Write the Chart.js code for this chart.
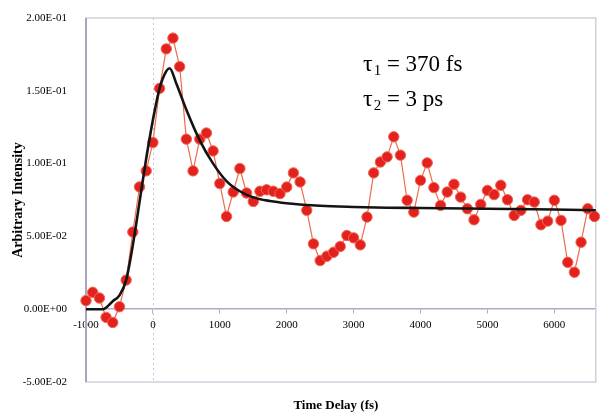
<!DOCTYPE html>
<html>
<head>
<meta charset="utf-8">
<script src="https://cdn.jsdelivr.net/npm/chart.js@4.4.0/dist/chart.umd.min.js"></script>
<style>
  body { margin: 0; background: #fff; }
</style>
</head>
<body>
<canvas id="chart" width="602" height="413"></canvas>
<script>
// measured points (fs)
const delays = [
  -1000, -900, -800, -700, -600, -500, -400, -300, -200, -100,
  0, 100, 200, 300, 400, 500, 600, 700, 800, 900,
  1000, 1100, 1200, 1300, 1400, 1500, 1600, 1700, 1800, 1900,
  2000, 2100, 2200, 2300, 2400, 2500, 2600, 2700, 2800, 2900,
  3000, 3100, 3200, 3300, 3400, 3500, 3600, 3700, 3800, 3900,
  4000, 4100, 4200, 4300, 4400, 4500, 4600, 4700, 4800, 4900,
  5000, 5100, 5200, 5300, 5400, 5500, 5600, 5700, 5800, 5900,
  6000, 6100, 6200, 6300, 6400, 6500, 6600
];
const intensity = [
  0.0059, 0.0116, 0.0077, -0.0056, -0.0091, 0.0017, 0.0200, 0.0530, 0.0840, 0.0950,
  0.1145, 0.1517, 0.1788, 0.1862, 0.1666, 0.1168, 0.0950, 0.1168, 0.1210, 0.1087,
  0.0863, 0.0637, 0.0805, 0.0966, 0.0798, 0.0740, 0.0810, 0.0820, 0.0810, 0.0794,
  0.0839, 0.0936, 0.0874, 0.0679, 0.0449, 0.0334, 0.0364, 0.0391, 0.0431, 0.0506,
  0.0490, 0.0442, 0.0633, 0.0936, 0.1011, 0.1046, 0.1184, 0.1058, 0.0748, 0.0667,
  0.0885, 0.1005, 0.0835, 0.0713, 0.0805, 0.0858, 0.0770, 0.0690, 0.0614, 0.0720,
  0.0816, 0.0787, 0.0851, 0.0752, 0.0644, 0.0679, 0.0752, 0.0736, 0.0580, 0.0605,
  0.0748, 0.0610, 0.0322, 0.0254, 0.0460, 0.0690, 0.0637
];

// fitted curve
const fitDelays = [-1000, -750, -600, -500, -400, -300, -200, -100, 0, 100, 200, 250, 350, 500,
  700, 900, 1100, 1300, 1500, 1750, 2000, 2500, 3000, 3500, 4000, 5000, 6000, 6620];
const fitIntensity = [0, 0, 0.0055, 0.0095, 0.0200, 0.0440, 0.0736, 0.1035, 0.1300, 0.1517, 0.1635, 0.1655, 0.1550, 0.1370,
  0.1160, 0.1000, 0.0880, 0.0810, 0.0768, 0.0743, 0.0728, 0.0710, 0.0702, 0.0697, 0.0695, 0.0690, 0.0685, 0.0680];

const xTicks = [-1000, 0, 1000, 2000, 3000, 4000, 5000, 6000];
const yTicks = [-0.05, 0, 0.05, 0.10, 0.15, 0.20];
const yTickLabels = ['-5.00E-02', '0.00E+00', '5.00E-02', '1.00E-01', '1.50E-01', '2.00E-01'];

Chart.defaults.font.family = '"Liberation Serif", "Times New Roman", serif';
Chart.defaults.color = '#000';

const decorations = {
  id: 'decorations',
  beforeDatasetsDraw(chart) {
    const { ctx, chartArea: a, scales: { x } } = chart;
    ctx.save();
    // dotted line at t = 0
    const x0 = Math.round(x.getPixelForValue(0)) + 0.5;
    ctx.strokeStyle = '#c6c6d6';
    ctx.lineWidth = 1;
    ctx.setLineDash([2, 3]);
    ctx.beginPath();
    ctx.moveTo(x0, a.top);
    ctx.lineTo(x0, a.bottom);
    ctx.stroke();
    ctx.setLineDash([]);
    // frame
    ctx.strokeStyle = '#cfcfdc';
    ctx.lineWidth = 1.5;
    ctx.strokeRect(a.left, a.top, a.right - a.left, a.bottom - a.top);
    ctx.strokeStyle = '#a6a6be';
    ctx.lineWidth = 2;
    ctx.beginPath();
    ctx.moveTo(a.left, a.top);
    ctx.lineTo(a.left, a.bottom);
    ctx.stroke();
    ctx.restore();
  },
  afterDraw(chart) {
    const { ctx, chartArea: a } = chart;
    ctx.save();
    ctx.fillStyle = '#000';

    // axis titles
    ctx.font = 'bold 13px "Liberation Serif"';
    ctx.textAlign = 'center';
    ctx.textBaseline = 'middle';
    ctx.fillText('Time Delay (fs)', (a.left + a.right) / 2 - 5, 406);
    ctx.font = 'bold 14px "Liberation Serif"';
    ctx.translate(18, (a.top + a.bottom) / 2);
    ctx.rotate(-Math.PI / 2);
    ctx.fillText('Arbitrary Intensity', 0, 0);
    ctx.setTransform(1, 0, 0, 1, 0, 0);

    // lifetimes
    ctx.textAlign = 'left';
    ctx.textBaseline = 'alphabetic';
    function tau(sub, rest, x, y) {
      ctx.font = '24px "Liberation Serif"';
      ctx.fillText('\u03c4', x, y);
      x += ctx.measureText('\u03c4').width + 1;
      ctx.font = '15px "Liberation Serif"';
      ctx.fillText(sub, x, y + 4);
      x += ctx.measureText(sub).width;
      ctx.font = '23px "Liberation Serif"';
      ctx.fillText(rest, x, y);
    }
    tau('1', ' = 370 fs', 363, 71);
    tau('2', ' = 3 ps', 363, 106);
    ctx.restore();
  }
};

new Chart(document.getElementById('chart'), {
  type: 'line',
  data: {
    datasets: [{
      label: 'Data',
      data: delays.map((t, i) => ({ x: t, y: intensity[i] })),
      borderColor: '#ee6a4c',
      borderWidth: 1.2,
      pointRadius: 5.2,
      pointBackgroundColor: '#e3221f',
      pointBorderColor: '#f0664e',
      pointBorderWidth: 1,
      tension: 0,
      clip: false,
      order: 2
    }, {
      label: 'Fit',
      data: fitDelays.map((t, i) => ({ x: t, y: fitIntensity[i] })),
      borderColor: '#141414',
      borderWidth: 2.6,
      pointRadius: 0,
      cubicInterpolationMode: 'monotone',
      clip: false,
      order: 1
    }]
  },
  options: {
    responsive: false,
    animation: false,
    devicePixelRatio: 1,
    layout: { padding: { left: 0, top: 18, right: 2, bottom: 31 } },
    plugins: { legend: { display: false }, tooltip: { enabled: false } },
    scales: {
      x: {
        type: 'linear',
        position: { y: 0 },
        min: -1000,
        max: 6620,
        afterBuildTicks: s => { s.ticks = xTicks.map(v => ({ value: v })); },
        ticks: {
          callback: v => String(v),
          font: { size: 11 },
          padding: 5,
          maxRotation: 0
        },
        grid: { display: true, drawOnChartArea: false, tickLength: 4, color: '#b4a8c2' },
        border: { display: true, color: '#b4a8c2', width: 1.5 }
      },
      y: {
        min: -0.05,
        max: 0.2,
        afterBuildTicks: s => { s.ticks = yTicks.map(v => ({ value: v })); },
        afterFit: s => { s.width = 86; },
        ticks: {
          callback: (v, i) => yTickLabels[i],
          font: { size: 11 },
          padding: 11
        },
        grid: { display: false },
        border: { display: false }
      }
    }
  },
  plugins: [decorations]
});
</script>
</body>
</html>
